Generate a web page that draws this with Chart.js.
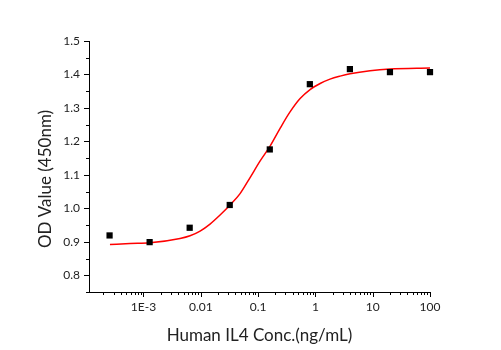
<!DOCTYPE html>
<html>
<head>
<meta charset="utf-8">
<script src="https://cdn.jsdelivr.net/npm/chart.js@4/dist/chart.umd.min.js"></script>
<style>
  html, body { margin: 0; padding: 0; background: #fff; }
</style>
</head>
<body>
<canvas id="chart" width="501" height="350"></canvas>
<script>
'use strict';

// OD readings at each 5-fold IL4 dilution
const conc = [0.000256, 0.00128, 0.0064, 0.032, 0.16, 0.8, 4, 20, 100];
const od = [0.919, 0.899, 0.942, 1.010, 1.176, 1.371, 1.416, 1.407, 1.407];

// fitted dose-response curve
const fitConc = [0.00026, 0.000583, 0.0013, 0.00435, 0.0065, 0.00972, 0.0145, 0.0217, 0.0324, 0.0485,
  0.0725, 0.108, 0.162, 0.242, 0.361, 0.541, 0.807, 1.21, 1.8, 2.7, 4.03, 9.0, 20.1, 100];
const fitOd = [0.892, 0.895, 0.897, 0.910, 0.918, 0.932, 0.953, 0.980, 1.010, 1.044,
  1.092, 1.141, 1.186, 1.239, 1.288, 1.328, 1.355, 1.373, 1.386, 1.395, 1.402, 1.411, 1.416, 1.419];

const xMajor = [0.001, 0.01, 0.1, 1, 10, 100];
const xLabels = ['1E-3', '0.01', '0.1', '1', '10', '100'];
const yMajor = [0.8, 0.9, 1.0, 1.1, 1.2, 1.3, 1.4, 1.5];
const yLabels = ['0.8', '0.9', '1.0', '1.1', '1.2', '1.3', '1.4', '1.5'];

const FONT = 'Lato';
const X_MIN = 1.12e-4, X_MAX = 100, Y_MIN = 0.75, Y_MAX = 1.5;

function findIdx(list, v) {
  return list.findIndex(m => Math.abs(m - v) / Math.abs(m) < 1e-6);
}

// short ticks on the outside of both axes, plus the rotated y title
const axisMarks = {
  id: 'axisMarks',
  afterDraw(chart) {
    const {ctx, chartArea: a, scales: {x, y}} = chart;
    ctx.save();
    ctx.strokeStyle = '#000';
    ctx.lineWidth = 1;
    ctx.beginPath();
    x.ticks.forEach(t => {
      const px = Math.round(x.getPixelForValue(t.value)) + 0.5;
      ctx.moveTo(px, a.bottom);
      ctx.lineTo(px, a.bottom + (t.major ? 5 : 3));
    });
    y.ticks.forEach(t => {
      const py = Math.round(y.getPixelForValue(t.value)) + 0.5;
      ctx.moveTo(a.left, py);
      ctx.lineTo(a.left - (t.major ? 5 : 3), py);
    });
    ctx.stroke();

    ctx.fillStyle = '#222';
    ctx.font = '17px ' + FONT;
    ctx.textAlign = 'center';
    ctx.textBaseline = 'middle';
    ctx.translate(46, 179);
    ctx.rotate(-Math.PI / 2);
    ctx.fillText('OD Value (450nm)', 0, 0);
    ctx.restore();
  }
};

new Chart(document.getElementById('chart').getContext('2d'), {
  data: {
    datasets: [
      {
        type: 'scatter',
        data: conc.map((c, i) => ({x: c, y: od[i]})),
        pointStyle: 'rect',
        pointRadius: 4.4,
        backgroundColor: '#000',
        borderWidth: 0,
        clip: false
      },
      {
        type: 'line',
        data: fitConc.map((c, i) => ({x: c, y: fitOd[i]})),
        borderColor: '#ff0000',
        borderWidth: 1.5,
        pointRadius: 0,
        cubicInterpolationMode: 'monotone',
        fill: false
      }
    ]
  },
  options: {
    responsive: false,
    animation: false,
    layout: {padding: {top: 41, right: 71, bottom: 0, left: 0}},
    plugins: {legend: {display: false}, tooltip: {enabled: false}},
    scales: {
      x: {
        type: 'logarithmic',
        min: X_MIN,
        max: X_MAX,
        grid: {display: false, drawTicks: false},
        border: {display: true, color: '#000', width: 1},
        afterBuildTicks(scale) {
          const ticks = [];
          for (let e = -4; e <= 2; e++) {
            for (let m = 1; m <= 9; m++) {
              const v = parseFloat((m * Math.pow(10, e)).toPrecision(3));
              if (v >= X_MIN && v <= X_MAX) ticks.push({value: v, major: m === 1});
            }
          }
          scale.ticks = ticks;
        },
        afterFit(scale) { scale.height = 58; },
        ticks: {
          autoSkip: false,
          maxRotation: 0,
          padding: 8,
          color: '#222',
          font: {family: FONT, size: 12},
          callback(value) {
            const i = findIdx(xMajor, value);
            return i >= 0 ? xLabels[i] : '';
          }
        },
        title: {
          display: true,
          text: 'Human IL4 Conc.(ng/mL)',
          color: '#222',
          font: {family: FONT, size: 17},
          padding: {top: 0, bottom: 4}
        }
      },
      y: {
        type: 'linear',
        min: Y_MIN,
        max: Y_MAX,
        grid: {display: false, drawTicks: false},
        border: {display: true, color: '#000', width: 1},
        afterBuildTicks(scale) {
          const ticks = [];
          for (let k = 15; k <= 30; k++) {
            ticks.push({value: k / 20, major: k % 2 === 0});
          }
          scale.ticks = ticks;
        },
        afterFit(scale) { scale.width = 89; },
        ticks: {
          autoSkip: false,
          padding: 9,
          color: '#222',
          font: {family: FONT, size: 12},
          callback(value) {
            const i = findIdx(yMajor, value);
            return i >= 0 ? yLabels[i] : '';
          }
        }
      }
    }
  },
  plugins: [axisMarks]
});
</script>
</body>
</html>
